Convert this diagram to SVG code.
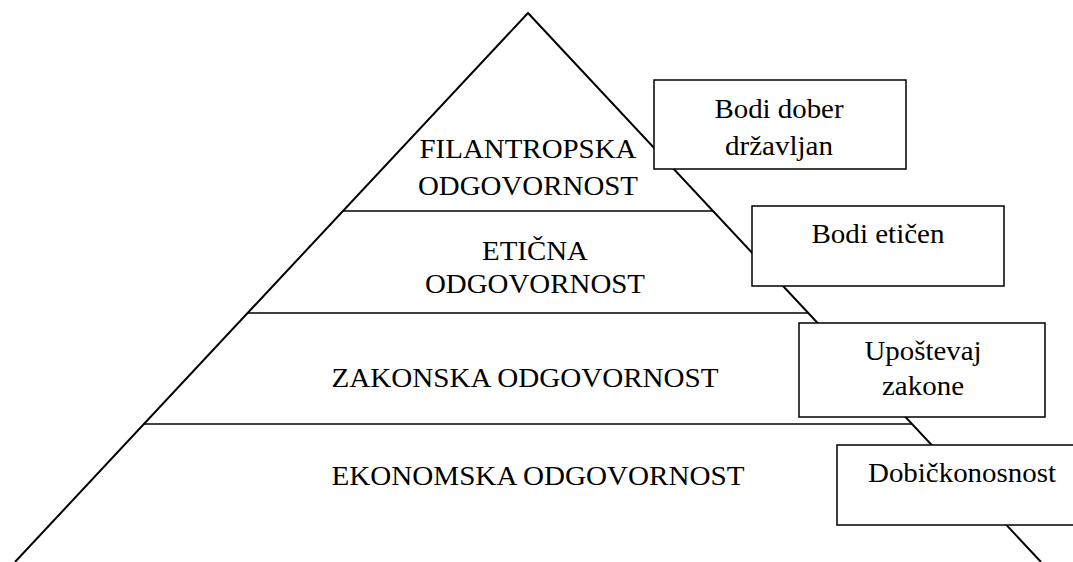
<svg xmlns="http://www.w3.org/2000/svg" width="1073" height="562" viewBox="0 0 1073 562">
<style>
.t{font-family:'Liberation Serif','DejaVu Serif',serif;font-size:28px;fill:#000;text-anchor:middle}
.side{stroke:#000;stroke-width:2;fill:none}
.tier{stroke:#000;stroke-width:1.5;fill:none}
.box{fill:#fff;stroke:#000;stroke-width:1.5}
</style>
<rect width="1073" height="562" fill="#fff"/>
<g id="pyramid">
<polyline class="side" points="15,562 528,13 1041,562"/>
<line class="tier" x1="343" y1="211" x2="713" y2="211"/>
<line class="tier" x1="247" y1="313" x2="808" y2="313"/>
<line class="tier" x1="143" y1="424" x2="912" y2="424"/>
</g>
<g id="tier-filantropska">
<text class="t" x="528" y="158" textLength="217" lengthAdjust="spacingAndGlyphs">FILANTROPSKA</text>
<text class="t" x="528" y="195" textLength="220" lengthAdjust="spacingAndGlyphs">ODGOVORNOST</text>
</g>
<g id="tier-eticna">
<text class="t" x="535" y="260" textLength="106" lengthAdjust="spacingAndGlyphs">ETIČNA</text>
<text class="t" x="535" y="293" textLength="220" lengthAdjust="spacingAndGlyphs">ODGOVORNOST</text>
</g>
<g id="tier-zakonska">
<text class="t" x="525" y="387" textLength="387" lengthAdjust="spacingAndGlyphs">ZAKONSKA ODGOVORNOST</text>
</g>
<g id="tier-ekonomska">
<text class="t" x="538" y="485" textLength="413" lengthAdjust="spacingAndGlyphs">EKONOMSKA ODGOVORNOST</text>
</g>
<g id="connectors"></g>
<g id="box-drzavljan">
<rect class="box" x="654" y="80" width="252" height="89"/>
<text class="t" x="779" y="118" textLength="129" lengthAdjust="spacingAndGlyphs">Bodi dober</text>
<text class="t" x="779" y="155" textLength="108" lengthAdjust="spacingAndGlyphs">državljan</text>
</g>
<g id="box-eticen">
<rect class="box" x="752" y="206" width="252" height="80"/>
<text class="t" x="878" y="243" textLength="133" lengthAdjust="spacingAndGlyphs">Bodi etičen</text>
</g>
<g id="box-zakone">
<rect class="box" x="799" y="323" width="246" height="94"/>
<text class="t" x="923" y="360" textLength="117" lengthAdjust="spacingAndGlyphs">Upoštevaj</text>
<text class="t" x="923" y="395" textLength="82" lengthAdjust="spacingAndGlyphs">zakone</text>
</g>
<g id="box-dobickonosnost">
<rect class="box" x="837" y="445" width="250" height="80"/>
<text class="t" x="962" y="482" textLength="188" lengthAdjust="spacingAndGlyphs">Dobičkonosnost</text>
</g>
</svg>
